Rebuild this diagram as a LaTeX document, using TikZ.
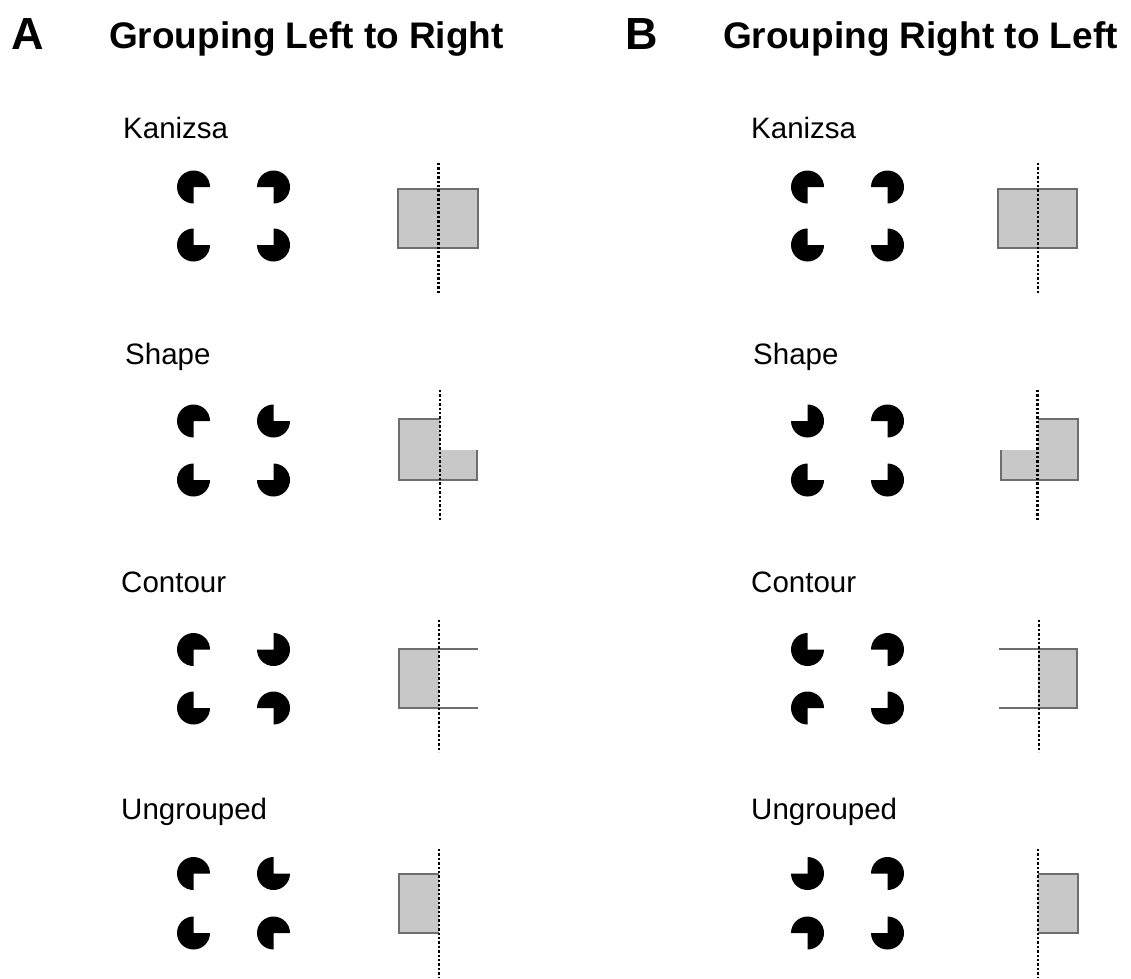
\documentclass[tikz,border=0pt]{standalone}
\usepackage{fontspec}
\setmainfont{Liberation Sans}
\definecolor{boxfill}{HTML}{C8C8C8}
\definecolor{boxedge}{HTML}{6E6E6E}
\newcommand\pacman[3]{\fill[black] (#1,#2) -- ++({#3+90}:16.5) arc[start angle={#3+90}, end angle={#3+360}, radius=16.5] -- cycle;}
% missing quadrant codes (screen): BR=0, BL=90, TL=180, TR=270
\tikzset{
  edge/.style={draw=boxedge, line width=2.8pt, line join=miter},
  shade/.style={fill=boxfill},
  axis/.style={draw=black, line width=2.6pt, dash pattern=on 2.4pt off 2pt},
  lbl/.style={anchor=base west, inner sep=0pt, font=\fontsize{29.5}{34}\selectfont},
  head/.style={anchor=base west, inner sep=0pt, font=\fontsize{37}{42}\selectfont\bfseries},
  letter/.style={anchor=base west, inner sep=0pt, font=\fontsize{45}{50}\selectfont\bfseries}
}
\begin{document}
\begin{tikzpicture}[x=1pt,y=-1pt]
\useasboundingbox[fill=white] (0,0) rectangle (1131,978);
% headings
\node[letter] (hA) at (11,49) {A};
\node[head] (tA) at (109,48) {Grouping Left to Right};
\node[letter] (hB) at (625,49) {B};
\node[head] (tB) at (723,48) {Grouping Right to Left};
% labels
\node[lbl] (lk1) at (123,138) {Kanizsa};
\node[lbl] (ls1) at (125,364) {Shape};
\node[lbl] (lc1) at (121,592) {Contour};
\node[lbl] (lu1) at (121,819) {Ungrouped};
\node[lbl] (lk2) at (751,138) {Kanizsa};
\node[lbl] (ls2) at (753,364) {Shape};
\node[lbl] (lc2) at (751,592) {Contour};
\node[lbl] (lu2) at (751,819) {Ungrouped};
% ===== Panel A =====
% Kanizsa
\pacman{193.5}{187}{0}\pacman{273.5}{187}{90}
\pacman{193.5}{245}{270}\pacman{273.5}{245}{180}
\path[shade,edge] (398,189) rectangle (478,248);
\draw[axis] (438.5,163) -- (438.5,293);
% Shape
\pacman{193.5}{421}{0}\pacman{273.5}{421}{270}
\pacman{193.5}{480}{270}\pacman{273.5}{480}{180}
\fill[shade] (399,419) -- (440,419) -- (440,450) -- (477,450) -- (477,480) -- (399,480) -- cycle;
\draw[edge] (440,419) -- (399,419) -- (399,480) -- (477,480) -- (477,450);
\draw[axis] (440,390) -- (440,520);
% Contour
\pacman{193.5}{649.5}{0}\pacman{273.5}{649.5}{180}
\pacman{193.5}{708}{270}\pacman{273.5}{708}{90}
\fill[shade] (399,649) rectangle (439,708);
\draw[edge] (478,649) -- (399,649) -- (399,708) -- (478,708);
\draw[axis] (439,620) -- (439,752);
% Ungrouped
\pacman{193.5}{873.5}{0}\pacman{273.5}{873.5}{270}
\pacman{193.5}{933}{270}\pacman{273.5}{933}{0}
\fill[shade] (399,874) rectangle (439,933);
\draw[edge] (439,874) -- (399,874) -- (399,933) -- (439,933);
\draw[axis] (439,849) -- (439,978);
% ===== Panel B =====
% Kanizsa
\pacman{807.5}{187}{0}\pacman{887.5}{187}{90}
\pacman{807.5}{245}{270}\pacman{887.5}{245}{180}
\path[shade,edge] (998,189) rectangle (1077,248);
\draw[axis] (1038,163) -- (1038,293);
% Shape
\pacman{807.5}{421}{180}\pacman{887.5}{421}{90}
\pacman{807.5}{480}{270}\pacman{887.5}{480}{180}
\fill[shade] (1001,450) -- (1038,450) -- (1038,419) -- (1078,419) -- (1078,480) -- (1001,480) -- cycle;
\draw[edge] (1001,450) -- (1001,480) -- (1078,480) -- (1078,419) -- (1038,419);
\draw[axis] (1037.5,390) -- (1037.5,520);
% Contour
\pacman{807.5}{649.5}{270}\pacman{887.5}{649.5}{90}
\pacman{807.5}{708}{0}\pacman{887.5}{708}{180}
\fill[shade] (1038,649) rectangle (1077,708);
\draw[edge] (999,649) -- (1077,649) -- (1077,708) -- (999,708);
\draw[axis] (1039,620) -- (1039,752);
% Ungrouped
\pacman{807.5}{873.5}{180}\pacman{887.5}{873.5}{90}
\pacman{807.5}{933}{90}\pacman{887.5}{933}{180}
\fill[shade] (1038,874) rectangle (1078,933);
\draw[edge] (1038,874) -- (1078,874) -- (1078,933) -- (1038,933);
\draw[axis] (1038,849) -- (1038,978);
\end{tikzpicture}
\end{document}
